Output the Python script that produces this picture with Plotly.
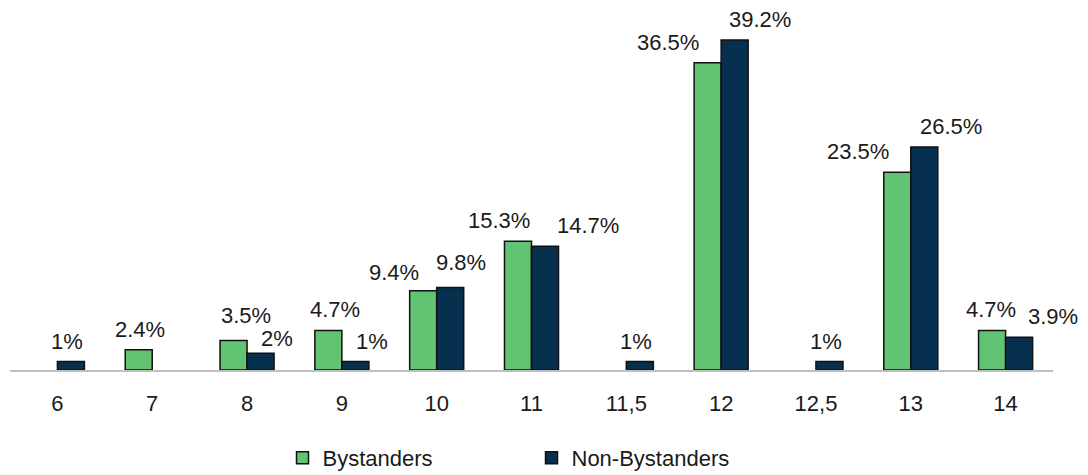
import plotly.graph_objects as go

# data
categories = ['6', '7', '8', '9', '10', '11', '11,5', '12', '12,5', '13', '14']
bystanders = [None, 2.4, 3.5, 4.7, 9.4, 15.3, None, 36.5, None, 23.5, 4.7]
non_bystanders = [1, None, 2, 1, 9.8, 14.7, 1, 39.2, 1, 26.5, 3.9]

# label nudges (px from category centre / bar top), styling only
nudge_by = [0, -12, -1, -7, -43, -33, 0, -53, 0, -53, -15]
nudge_nb = [10, 0, 30, 30, 24, 56, 10, 39, 10, 40, 47]
lift_by = [6, 6, 11, 6, 4, 6, 6, 6, 6, 6, 6]
lift_nb = [6, 6, 0, 6, 11, 6, 6, 6, 6, 6, 6]

GREEN = '#62C472'
NAVY = '#06304D'
FONT = 'Liberation Sans, Arial, sans-serif'
FS = 22

fig = go.Figure()
fig.add_trace(go.Bar(x=categories, y=bystanders, name='Bystanders',
                     marker=dict(color=GREEN, line=dict(color='#111111', width=1.5))))
fig.add_trace(go.Bar(x=categories, y=non_bystanders, name='Non-Bystanders',
                     marker=dict(color=NAVY, line=dict(color='#111111', width=1.5))))

# data labels (x given as category index so numeric-looking names aren't misread)
for series, nudges, lifts in ((bystanders, nudge_by, lift_by), (non_bystanders, nudge_nb, lift_nb)):
    for i, (val, dx, dy) in enumerate(zip(series, nudges, lifts)):
        if val is None:
            continue
        fig.add_annotation(x=i, y=val, text=f'{val:g}%', showarrow=False,
                           xanchor='center', yanchor='bottom', xshift=dx, yshift=dy,
                           font=dict(size=FS, color='#1a1a1a', family=FONT))

# page body adds an 8px offset, so margins are trimmed to compensate
fig.update_layout(
    width=1088, height=475,
    margin=dict(l=2, r=43, t=0, b=113),
    paper_bgcolor='white', plot_bgcolor='white',
    barmode='group', bargap=0.43, bargroupgap=0,
    font=dict(family=FONT, size=FS, color='#1a1a1a'),
    showlegend=True,
    legend=dict(orientation='h', x=0.5, xanchor='center', y=-0.243, yanchor='middle',
                font=dict(size=FS), entrywidth=204, itemwidth=30),
    xaxis=dict(type='category', range=[-0.5, 10.5], showline=True, linecolor='#BFBFBF',
               linewidth=1.5, ticks='', ticklabelstandoff=13, showgrid=False, zeroline=False),
    yaxis=dict(range=[0, 43], visible=False, showgrid=False, zeroline=False),
)

fig.write_html('out.html')
